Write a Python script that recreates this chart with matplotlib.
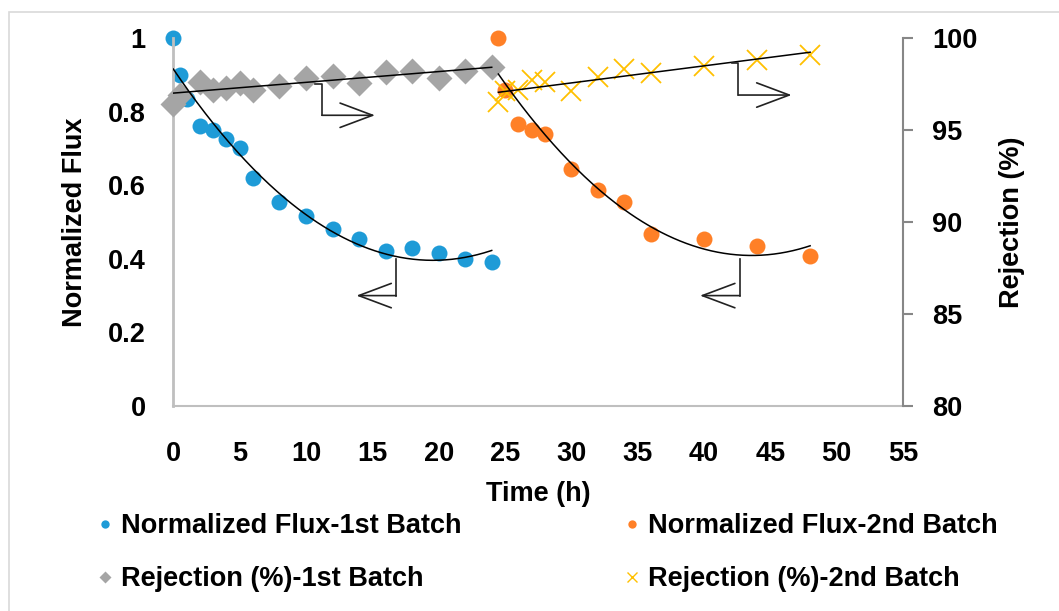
import matplotlib.pyplot as plt
from matplotlib.lines import Line2D
from matplotlib.patches import Rectangle
import numpy as np

plt.rcParams['font.family'] = ['Liberation Sans', 'DejaVu Sans']
plt.rcParams['font.weight'] = 'bold'
plt.rcParams['font.size'] = 19.5

# flux, 1st batch
t1 = [0, 0.5, 1, 2, 3, 4, 5, 6, 8, 10, 12, 14, 16, 18, 20, 22, 24]
flux1 = [1.0, 0.90, 0.835, 0.76, 0.75, 0.725, 0.70, 0.62, 0.555, 0.515,
         0.48, 0.455, 0.42, 0.43, 0.415, 0.40, 0.39]
# rejection, 1st batch
t1r = [0, 0.5, 2, 3, 4, 5, 6, 8, 10, 12, 14, 16, 18, 20, 22, 24]
rej1 = [96.4, 96.9, 97.6, 97.2, 97.3, 97.55, 97.2, 97.4, 97.85, 97.95,
        97.55, 98.15, 98.2, 97.8, 98.2, 98.45]
# flux, 2nd batch
t2 = [24.5, 25, 26, 27, 28, 30, 32, 34, 36, 40, 44, 48]
flux2 = [1.0, 0.86, 0.765, 0.75, 0.74, 0.645, 0.587, 0.555, 0.467, 0.454,
         0.436, 0.408]
# rejection, 2nd batch
t2r = [24.5, 25, 26, 27, 28, 30, 32, 34, 36, 40, 44, 48]
rej2 = [96.5, 97.1, 97.2, 97.7, 97.6, 97.1, 97.9, 98.3, 98.1, 98.5, 98.8, 99.1]

blue = '#1E9BD7'
orange = '#FF8027'
gray = '#A5A5A5'
yellow = '#FFC000'

fig = plt.figure(figsize=(10.59, 6.11), dpi=100)
ax = fig.add_axes([173.3 / 1059, 1 - 406 / 611, 729.7 / 1059, 368 / 611])
ax2 = ax.twinx()

# outer chart border (cut off at right/bottom like the original)
fig.patches.append(Rectangle((9 / 1059, -0.1), 1.2, 1.1 - 12 / 611,
                             transform=fig.transFigure, fill=False,
                             edgecolor='#D9D9D9', lw=1.2))

ax.plot(t1, flux1, 'o', color=blue, ms=11.5, mec='none', zorder=2, clip_on=False)
ax.plot(t2, flux2, 'o', color=orange, ms=11.5, mec='none', zorder=2, clip_on=False)
ax2.plot(t1r, rej1, 'D', color=gray, ms=13, mec='none', zorder=3, clip_on=False)
ax2.plot(t2r, rej2, 'x', color=yellow, ms=14, mew=1.3, zorder=3, clip_on=False)

# excel-style trendlines (poly order 2 for flux, linear for rejection)
for t, f in [(t1, flux1), (t2, flux2)]:
    c = np.polyfit(t, f, 2)
    xs = np.linspace(t[0], t[-1], 200)
    ax2.plot(xs, np.polyval(c, xs), color='black', lw=1.1, zorder=5,
             transform=ax.transData)
for t, r in [(t1r, rej1), (t2r, rej2)]:
    c = np.polyfit(t, r, 1)
    xs = np.array([t[0], t[-1]])
    ax2.plot(xs, np.polyval(c, xs), color='black', lw=1.1, zorder=5)

# L-shaped arrows pointing to the matching axis
arrow_kw = dict(arrowstyle='->,head_length=1.2,head_width=0.45', color='#222222', lw=1.2,
                shrinkA=0, shrinkB=0)
for (x0, y0, y1, x1) in [(11.2, 97.5, 95.8, 15.2), (42.6, 98.65, 96.9, 46.6)]:
    ax2.plot([x0 - 0.5, x0, x0], [y0, y0, y1], color='#222222', lw=1.2, zorder=6)
    ax2.annotate('', xy=(x1, y1), xytext=(x0, y1), arrowprops=arrow_kw, zorder=6)
for (x0, y0, y1, x1) in [(16.8, 0.40, 0.30, 13.8), (42.7, 0.40, 0.30, 39.7)]:
    ax.plot([x0, x0], [y0, y1], color='#222222', lw=1.2, zorder=6)
    ax.annotate('', xy=(x1, y1), xytext=(x0, y1), arrowprops=arrow_kw, zorder=6)

ax.set_xlim(0, 55)
ax.set_ylim(0, 1)
ax2.set_ylim(80, 100)
ax.set_xticks(range(0, 56, 5))
ax.set_yticks([0, 0.2, 0.4, 0.6, 0.8, 1])
ax.set_yticklabels(['0', '0.2', '0.4', '0.6', '0.8', '1'])
ax2.set_yticks([80, 85, 90, 95, 100])

for s in ['top', 'right']:
    ax.spines[s].set_visible(False)
ax.spines['left'].set_color('#BFBFBF')
ax.spines['bottom'].set_color('#BFBFBF')
ax.spines['left'].set_linewidth(2)
ax.spines['bottom'].set_linewidth(1.5)
ax2.spines['top'].set_visible(False)
ax2.spines['left'].set_visible(False)
ax2.spines['bottom'].set_visible(False)
ax2.spines['right'].set_color('#878787')
ax2.spines['right'].set_linewidth(1.5)

ax.tick_params(axis='x', length=0, pad=25)
ax.tick_params(axis='y', length=0, pad=20)
ax2.tick_params(axis='y', length=7, width=1.5, color='#878787', pad=14)
for lbl in ax.get_xticklabels() + ax.get_yticklabels() + ax2.get_yticklabels():
    lbl.set_fontweight('bold')

ax.set_xlabel('Time (h)', fontweight='bold')
ax.xaxis.set_label_coords(0.5, -0.205)
ax.set_ylabel('Normalized Flux', fontweight='bold')
ax.yaxis.set_label_coords(-0.117, 0.5)
ax2.set_ylabel('Rejection (%)', fontweight='bold', rotation=90)
ax2.yaxis.set_label_coords(1.132, 0.5)

handles = [
    Line2D([], [], ls='none', marker='o', color=blue, ms=6, mec='none'),
    Line2D([], [], ls='none', marker='D', color=gray, ms=6, mec='none'),
    Line2D([], [], ls='none', marker='o', color=orange, ms=6, mec='none'),
    Line2D([], [], ls='none', marker='x', color=yellow, ms=7, mew=1),
]
labels = ['Normalized Flux-1st Batch', 'Rejection (%)-1st Batch',
          'Normalized Flux-2nd Batch', 'Rejection (%)-2nd Batch']
fig.legend(handles, labels, ncol=2, frameon=False, loc='upper left',
           bbox_to_anchor=(72 / 1059, 1 - 489 / 611), handlelength=0.6,
           handletextpad=0.3, columnspacing=6.0, labelspacing=1.0,
           prop={'weight': 'bold', 'size': 19.5})

fig.savefig('out.png', dpi=100)
